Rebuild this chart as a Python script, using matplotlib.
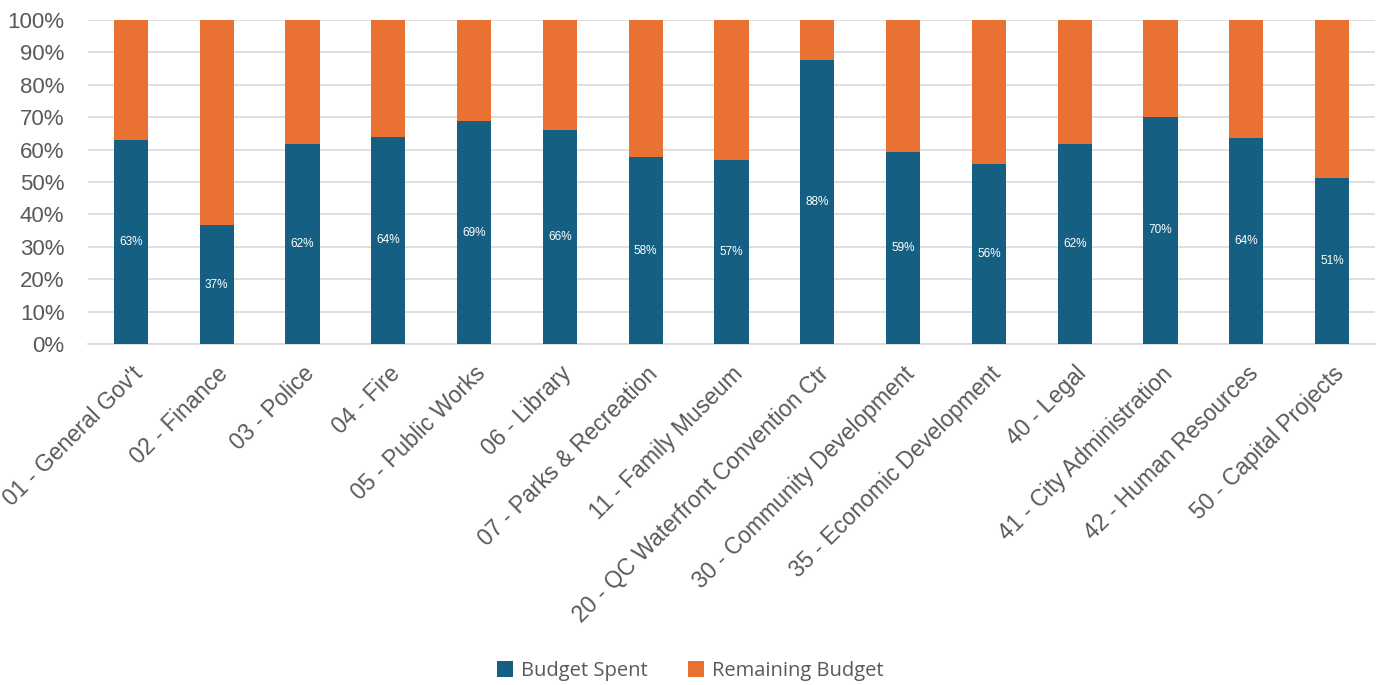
import matplotlib
matplotlib.use("Agg")
import matplotlib.pyplot as plt
import numpy as np
from matplotlib.ticker import PercentFormatter

categories = ["01 - General Gov't", "02 - Finance", "03 - Police", "04 - Fire",
              "05 - Public Works", "06 - Library", "07 - Parks & Recreation",
              "11 - Family Museum", "20 - QC Waterfront Convention Ctr",
              "30 - Community Development", "35 - Economic Development",
              "40 - Legal", "41 - City Administration", "42 - Human Resources",
              "50 - Capital Projects"]
spent = [63.0, 36.6, 61.7, 63.9, 68.7, 66.0, 57.7, 56.8, 87.7, 59.3, 55.6, 61.7, 70.2, 63.5, 51.3]
remaining = [100 - s for s in spent]

plt.rcParams['font.family'] = ['Liberation Sans', 'DejaVu Sans']
BLUE = '#156082'
ORANGE = '#E97132'
GREY = '#595959'

fig = plt.figure(figsize=(13.81, 6.85), dpi=100)
ax = fig.add_axes([88/1381, 1 - 344/685, (1375-88)/1381, (344-20)/685])

x = np.arange(len(categories))
w = 0.40
b1 = ax.bar(x, spent, w, color=BLUE, label='Budget Spent', zorder=3)
b2 = ax.bar(x, remaining, w, bottom=spent, color=ORANGE, label='Remaining Budget', zorder=3)

for xi, s in zip(x, spent):
    ax.text(xi, s / 2, f"{round(s):.0f}%", ha='center', va='center', color='white',
            fontsize=8.5, zorder=4)

ax.set_xlim(-0.5, len(categories) - 0.5)
ax.set_ylim(0, 100)
ax.set_yticks(np.arange(0, 101, 10))
ax.yaxis.set_major_formatter(PercentFormatter(decimals=0))
ax.grid(axis='y', color='#d9d9d9', linewidth=1.2, zorder=0)
for sp in ['top', 'right', 'left']:
    ax.spines[sp].set_visible(False)
ax.spines['bottom'].set_color('#d9d9d9')
ax.spines['bottom'].set_linewidth(1.2)
ax.tick_params(axis='y', length=0, labelsize=16, colors=GREY, pad=17)
ax.tick_params(axis='x', length=0, labelsize=16.5, colors=GREY, pad=13)
ax.set_xticks(x)
ax.set_xticklabels(categories, rotation=45, ha='right', rotation_mode='anchor', va='top')

fig.legend(handles=[b1, b2], loc='center', bbox_to_anchor=(0.5, 1 - 671/685), ncol=2,
           frameon=False, labelcolor=GREY, handlelength=0.8, handleheight=0.8,
           columnspacing=2.0, handletextpad=0.4, prop={'family': ['Open Sans'], 'size': 14.5})

fig.savefig('out.png', dpi=100)
